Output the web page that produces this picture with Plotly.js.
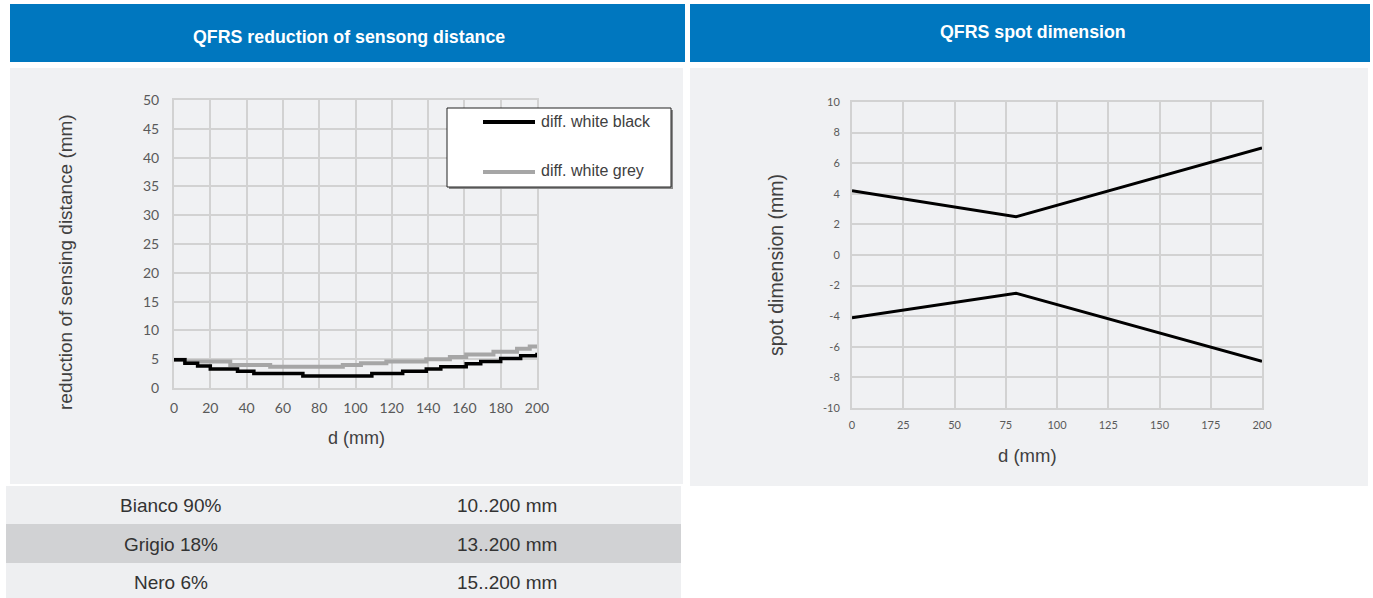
<!DOCTYPE html>
<html><head><meta charset="utf-8">
<script src="https://cdn.plot.ly/plotly-3.0.1.min.js"></script>
<style>html,body{margin:0;padding:0;background:#fff;overflow:hidden}#chart{width:1373px;height:598px}</style>
</head><body><div id="chart"></div>
<script>
// ---- data ----
const panelTitles = ['QFRS reduction of sensong distance', 'QFRS spot dimension'];
const seriesNames = ['diff. white black', 'diff. white grey'];
const axisTitles = {leftX: 'd (mm)', leftY: 'reduction of sensing distance (mm)', rightX: 'd (mm)', rightY: 'spot dimension (mm)'};

// left chart: reduction of sensing distance (stepped curves)
const blackX = [0, 6, 13, 20, 35, 44, 71, 109, 126, 139, 147, 161, 169, 180, 191, 200];
const blackY = [4.9, 4.3, 3.8, 3.3, 2.9, 2.5, 2.1, 2.5, 2.9, 3.3, 3.7, 4.2, 4.6, 5.1, 5.6, 6.1];
const greyX  = [0, 6, 31, 53, 93, 103, 117, 139, 152, 161, 176, 189, 196, 200];
const greyY  = [4.9, 4.6, 4.0, 3.7, 4.0, 4.3, 4.6, 5.0, 5.4, 5.8, 6.3, 6.8, 7.2, 7.3];

// right chart: spot dimension
const spotX     = [0, 80, 200];
const spotUpper = [4.2, 2.5, 7.0];
const spotLower = [-4.1, -2.5, -6.95];
const spotYTickVals   = [-10, -8, -6, -4, -2, 0, 2, 4, 6, 8, 10];
const spotYTickLabels = ['-10', '-8', '-6', '-4', '-2', '0', '2', '4', '6', '8', '10'];

// table
const tableMaterials = ['Bianco 90%', 'Grigio 18%', 'Nero 6%'];
const tableRanges    = ['10..200 mm', '13..200 mm', '15..200 mm'];

// ---- layout helpers ----
const W = 1373, H = 598;
const px = x => x / W, py = y => 1 - y / H;
const BLUE = '#0077bf', PANEL = '#f0f1f3', GRID = '#d2d2d2';
const tickFontL = {family: 'Lato, "Open Sans", sans-serif', size: 14, color: '#595959'};
const tickFontR = {family: 'Lato, "Open Sans", sans-serif', size: 11, color: '#595959'};
const SANS = '"Liberation Sans", Arial, sans-serif';

const traces = [
  {x: greyX, y: greyY, name: seriesNames[1], mode: 'lines', line: {color: '#a6a6a6', width: 4, shape: 'hv'}, xaxis: 'x', yaxis: 'y', showlegend: false},
  {x: blackX, y: blackY, name: seriesNames[0], mode: 'lines', line: {color: '#000000', width: 3.5, shape: 'hv'}, xaxis: 'x', yaxis: 'y', showlegend: false},
  {x: spotX, y: spotUpper, name: 'upper', mode: 'lines', line: {color: '#000', width: 3}, xaxis: 'x2', yaxis: 'y2', showlegend: false},
  {x: spotX, y: spotLower, name: 'lower', mode: 'lines', line: {color: '#000', width: 3}, xaxis: 'x2', yaxis: 'y2', showlegend: false}
];

const axisCommon = {showgrid: true, gridcolor: GRID, gridwidth: 2, showline: true, linecolor: GRID, linewidth: 2, mirror: true, zeroline: false, ticks: '', fixedrange: true};

const shapes = [];
const rect = (x0, y0, x1, y1, fill, line, layer) => shapes.push({type: 'rect', xref: 'paper', yref: 'paper', x0: px(x0), x1: px(x1), y0: py(y1), y1: py(y0), fillcolor: fill, line: line || {width: 0}, layer: layer || 'below'});
// headers
rect(10, 4, 685, 62, BLUE);
rect(690, 4, 1370, 62, BLUE);
// panels
rect(10, 68, 683, 484, PANEL);
rect(690, 68, 1368, 486, PANEL);
// table rows
rect(6, 486, 681, 524, '#eeeff1');
rect(6, 524, 681, 563, '#d1d2d4');
rect(6, 563, 681, 598, '#eeeff1');

// legend box (drawn above plot)
rect(449, 110, 673, 189, '#8a8a8a', null, 'above');
rect(447, 108, 671, 187, '#ffffff', {color: '#222', width: 1}, 'above');
shapes.push({type: 'line', xref: 'paper', yref: 'paper', x0: px(483), x1: px(535), y0: py(122), y1: py(122), line: {color: '#000', width: 4}, layer: 'above'});
shapes.push({type: 'line', xref: 'paper', yref: 'paper', x0: px(483), x1: px(535), y0: py(172), y1: py(172), line: {color: '#a6a6a6', width: 4}, layer: 'above'});

const annotations = [];
const txt = (x, y, text, font, xanchor, angle) => annotations.push({xref: 'paper', yref: 'paper', x: px(x), y: py(y), text, showarrow: false, font, xanchor: xanchor || 'center', yanchor: 'middle', textangle: angle || 0});
const hdrFont = {family: SANS, size: 17.8, color: '#ffffff', weight: 'bold'};
txt(349, 37, panelTitles[0], hdrFont);
txt(1033, 32, panelTitles[1], hdrFont);
const legFont = {family: SANS, size: 16, color: '#404040'};
txt(539, 122, seriesNames[0], legFont, 'left');
txt(539, 171, seriesNames[1], legFont, 'left');
// axis titles
txt(66, 262, axisTitles.leftY, {family: SANS, size: 19, color: '#404040'}, 'center', -90);
txt(356, 438, axisTitles.leftX, {family: SANS, size: 18, color: '#404040'});
txt(776, 265, axisTitles.rightY, {family: SANS, size: 19.5, color: '#404040'}, 'center', -90);
txt(1027, 455, axisTitles.rightX, {family: SANS, size: 18.5, color: '#404040'});
// table
const tabFont = {family: SANS, size: 19, color: '#333333'};
const rowY = [505, 544, 582];
tableMaterials.forEach((m, i) => { txt(171, rowY[i], m, tabFont); txt(507, rowY[i], tableRanges[i], tabFont); });

const layout = {
  width: W, height: H, margin: {l: 0, r: 0, t: 0, b: 0},
  paper_bgcolor: '#ffffff', plot_bgcolor: PANEL, showlegend: false,
  xaxis: Object.assign({}, axisCommon, {domain: [px(174), px(537)], range: [0, 200], dtick: 20, tick0: 0, anchor: 'y', tickfont: tickFontL, ticklabelstandoff: 6}),
  yaxis: Object.assign({}, axisCommon, {domain: [py(388), py(100)], range: [0, 50], dtick: 5, tick0: 0, anchor: 'x', tickfont: tickFontL, ticklabelstandoff: 10}),
  xaxis2: Object.assign({}, axisCommon, {domain: [px(852), px(1262)], range: [0, 200], dtick: 25, tick0: 0, anchor: 'y2', tickfont: tickFontR, ticklabelstandoff: 6}),
  yaxis2: Object.assign({}, axisCommon, {domain: [py(408), py(102)], range: [-10, 10], tickmode: 'array', tickvals: spotYTickVals, ticktext: spotYTickLabels, anchor: 'x2', tickfont: tickFontR, ticklabelstandoff: 8}),
  shapes, annotations
};

Plotly.newPlot('chart', traces, layout, {displayModeBar: false, staticPlot: true});
</script>
</body></html>
